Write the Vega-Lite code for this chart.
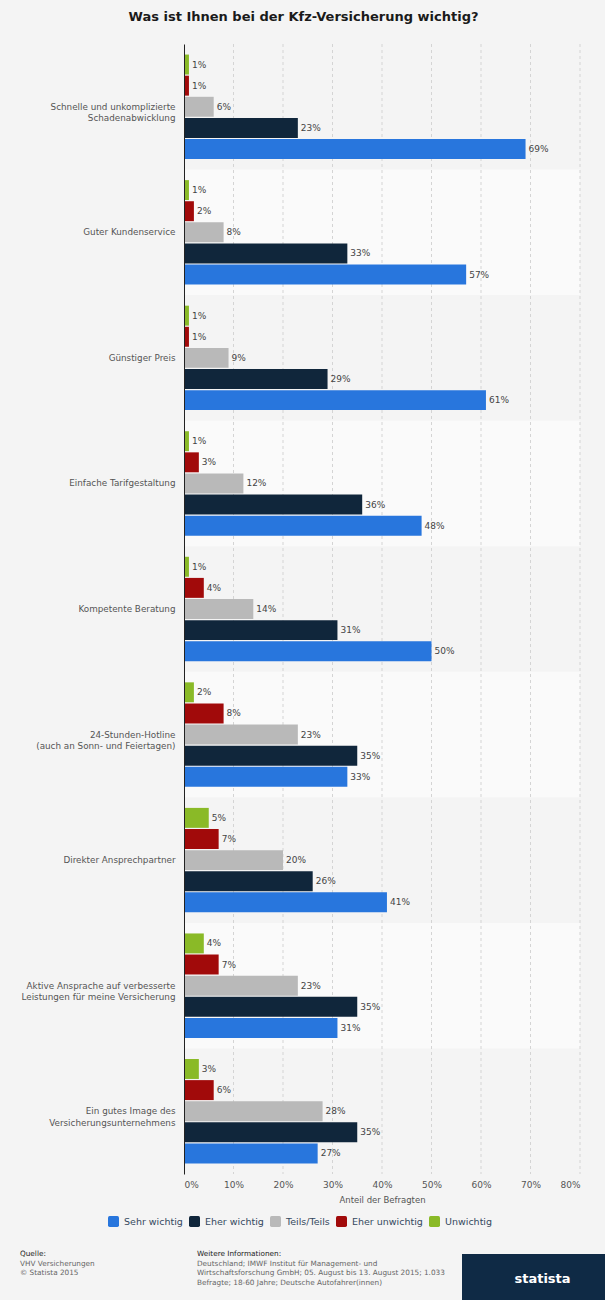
{
  "$schema": "https://vega.github.io/schema/vega-lite/v6.json",
  "background": "#f4f4f4",
  "padding": {"left": 20, "top": 10, "right": 0, "bottom": 0},
  "config": {"view": {"stroke": null}, "font": "DejaVu Sans"},
  "title": {
    "text": "Was ist Ihnen bei der Kfz-Versicherung wichtig?",
    "font": "DejaVu Sans",
    "fontSize": 13,
    "fontWeight": "bold",
    "color": "#1a1a1a",
    "anchor": "middle",
    "dx": -10,
    "offset": 20
  },
  "datasets": {
    "umfrage": [
      {"Kategorie": "Schnelle und unkomplizierte\nSchadenabwicklung", "Bewertung": "Sehr wichtig", "Anteil": 0.69},
      {"Kategorie": "Schnelle und unkomplizierte\nSchadenabwicklung", "Bewertung": "Eher wichtig", "Anteil": 0.23},
      {"Kategorie": "Schnelle und unkomplizierte\nSchadenabwicklung", "Bewertung": "Teils/Teils", "Anteil": 0.06},
      {"Kategorie": "Schnelle und unkomplizierte\nSchadenabwicklung", "Bewertung": "Eher unwichtig", "Anteil": 0.01},
      {"Kategorie": "Schnelle und unkomplizierte\nSchadenabwicklung", "Bewertung": "Unwichtig", "Anteil": 0.01},
      {"Kategorie": "Guter Kundenservice", "Bewertung": "Sehr wichtig", "Anteil": 0.57},
      {"Kategorie": "Guter Kundenservice", "Bewertung": "Eher wichtig", "Anteil": 0.33},
      {"Kategorie": "Guter Kundenservice", "Bewertung": "Teils/Teils", "Anteil": 0.08},
      {"Kategorie": "Guter Kundenservice", "Bewertung": "Eher unwichtig", "Anteil": 0.02},
      {"Kategorie": "Guter Kundenservice", "Bewertung": "Unwichtig", "Anteil": 0.01},
      {"Kategorie": "Günstiger Preis", "Bewertung": "Sehr wichtig", "Anteil": 0.61},
      {"Kategorie": "Günstiger Preis", "Bewertung": "Eher wichtig", "Anteil": 0.29},
      {"Kategorie": "Günstiger Preis", "Bewertung": "Teils/Teils", "Anteil": 0.09},
      {"Kategorie": "Günstiger Preis", "Bewertung": "Eher unwichtig", "Anteil": 0.01},
      {"Kategorie": "Günstiger Preis", "Bewertung": "Unwichtig", "Anteil": 0.01},
      {"Kategorie": "Einfache Tarifgestaltung", "Bewertung": "Sehr wichtig", "Anteil": 0.48},
      {"Kategorie": "Einfache Tarifgestaltung", "Bewertung": "Eher wichtig", "Anteil": 0.36},
      {"Kategorie": "Einfache Tarifgestaltung", "Bewertung": "Teils/Teils", "Anteil": 0.12},
      {"Kategorie": "Einfache Tarifgestaltung", "Bewertung": "Eher unwichtig", "Anteil": 0.03},
      {"Kategorie": "Einfache Tarifgestaltung", "Bewertung": "Unwichtig", "Anteil": 0.01},
      {"Kategorie": "Kompetente Beratung", "Bewertung": "Sehr wichtig", "Anteil": 0.50},
      {"Kategorie": "Kompetente Beratung", "Bewertung": "Eher wichtig", "Anteil": 0.31},
      {"Kategorie": "Kompetente Beratung", "Bewertung": "Teils/Teils", "Anteil": 0.14},
      {"Kategorie": "Kompetente Beratung", "Bewertung": "Eher unwichtig", "Anteil": 0.04},
      {"Kategorie": "Kompetente Beratung", "Bewertung": "Unwichtig", "Anteil": 0.01},
      {"Kategorie": "24-Stunden-Hotline\n(auch an Sonn- und Feiertagen)", "Bewertung": "Sehr wichtig", "Anteil": 0.33},
      {"Kategorie": "24-Stunden-Hotline\n(auch an Sonn- und Feiertagen)", "Bewertung": "Eher wichtig", "Anteil": 0.35},
      {"Kategorie": "24-Stunden-Hotline\n(auch an Sonn- und Feiertagen)", "Bewertung": "Teils/Teils", "Anteil": 0.23},
      {"Kategorie": "24-Stunden-Hotline\n(auch an Sonn- und Feiertagen)", "Bewertung": "Eher unwichtig", "Anteil": 0.08},
      {"Kategorie": "24-Stunden-Hotline\n(auch an Sonn- und Feiertagen)", "Bewertung": "Unwichtig", "Anteil": 0.02},
      {"Kategorie": "Direkter Ansprechpartner", "Bewertung": "Sehr wichtig", "Anteil": 0.41},
      {"Kategorie": "Direkter Ansprechpartner", "Bewertung": "Eher wichtig", "Anteil": 0.26},
      {"Kategorie": "Direkter Ansprechpartner", "Bewertung": "Teils/Teils", "Anteil": 0.20},
      {"Kategorie": "Direkter Ansprechpartner", "Bewertung": "Eher unwichtig", "Anteil": 0.07},
      {"Kategorie": "Direkter Ansprechpartner", "Bewertung": "Unwichtig", "Anteil": 0.05},
      {"Kategorie": "Aktive Ansprache auf verbesserte\nLeistungen für meine Versicherung", "Bewertung": "Sehr wichtig", "Anteil": 0.31},
      {"Kategorie": "Aktive Ansprache auf verbesserte\nLeistungen für meine Versicherung", "Bewertung": "Eher wichtig", "Anteil": 0.35},
      {"Kategorie": "Aktive Ansprache auf verbesserte\nLeistungen für meine Versicherung", "Bewertung": "Teils/Teils", "Anteil": 0.23},
      {"Kategorie": "Aktive Ansprache auf verbesserte\nLeistungen für meine Versicherung", "Bewertung": "Eher unwichtig", "Anteil": 0.07},
      {"Kategorie": "Aktive Ansprache auf verbesserte\nLeistungen für meine Versicherung", "Bewertung": "Unwichtig", "Anteil": 0.04},
      {"Kategorie": "Ein gutes Image des\nVersicherungsunternehmens", "Bewertung": "Sehr wichtig", "Anteil": 0.27},
      {"Kategorie": "Ein gutes Image des\nVersicherungsunternehmens", "Bewertung": "Eher wichtig", "Anteil": 0.35},
      {"Kategorie": "Ein gutes Image des\nVersicherungsunternehmens", "Bewertung": "Teils/Teils", "Anteil": 0.28},
      {"Kategorie": "Ein gutes Image des\nVersicherungsunternehmens", "Bewertung": "Eher unwichtig", "Anteil": 0.06},
      {"Kategorie": "Ein gutes Image des\nVersicherungsunternehmens", "Bewertung": "Unwichtig", "Anteil": 0.03}
    ],
    "streifen": [
      {"Kategorie": "Guter Kundenservice"},
      {"Kategorie": "Einfache Tarifgestaltung"},
      {"Kategorie": "24-Stunden-Hotline\n(auch an Sonn- und Feiertagen)"},
      {"Kategorie": "Aktive Ansprache auf verbesserte\nLeistungen für meine Versicherung"}
    ],
    "raster": [
      {"Wert": 0.1}, {"Wert": 0.2}, {"Wert": 0.3}, {"Wert": 0.4},
      {"Wert": 0.5}, {"Wert": 0.6}, {"Wert": 0.7}, {"Wert": 0.8}
    ],
    "fussnote": [
      {"Block": "Quelle", "Zeile": 0, "Text": "Quelle:"},
      {"Block": "Quelle", "Zeile": 1, "Text": "VHV Versicherungen"},
      {"Block": "Quelle", "Zeile": 2, "Text": "© Statista 2015"},
      {"Block": "Weitere", "Zeile": 0, "Text": "Weitere Informationen:"},
      {"Block": "Weitere", "Zeile": 1, "Text": "Deutschland; IMWF Institut für Management- und"},
      {"Block": "Weitere", "Zeile": 2, "Text": "Wirtschaftsforschung GmbH; 05. August bis 13. August 2015; 1.033"},
      {"Block": "Weitere", "Zeile": 3, "Text": "Befragte; 18-60 Jahre; Deutsche Autofahrer(innen)"}
    ],
    "logo": [
      {"Marke": "statista"}
    ]
  },
  "spacing": 46,
  "vconcat": [
    {
      "width": 396,
      "height": 1130,
      "layer": [
        {
          "data": {"name": "streifen"},
          "mark": {"type": "rect", "color": "#fafafa"},
          "encoding": {
            "y": {
              "field": "Kategorie", "type": "nominal",
              "scale": {
                "domain": [
                  "Schnelle und unkomplizierte\nSchadenabwicklung",
                  "Guter Kundenservice",
                  "Günstiger Preis",
                  "Einfache Tarifgestaltung",
                  "Kompetente Beratung",
                  "24-Stunden-Hotline\n(auch an Sonn- und Feiertagen)",
                  "Direkter Ansprechpartner",
                  "Aktive Ansprache auf verbesserte\nLeistungen für meine Versicherung",
                  "Ein gutes Image des\nVersicherungsunternehmens"
                ],
                "paddingInner": 0, "paddingOuter": 0
              },
              "axis": {
                "title": null,
                "labelExpr": "split(datum.label, '\\n')",
                "labelFontSize": 8.8,
                "labelColor": "#555555",
                "labelPadding": 9,
                "labelLineHeight": 11.5,
                "labelLimit": 300,
                "ticks": false,
                "domain": true,
                "domainColor": "#222222",
                "domainWidth": 1
              }
            },
            "x": {"datum": 0, "type": "quantitative", "scale": {"domain": [0, 0.8], "nice": false}},
            "x2": {"datum": 0.8}
          }
        },
        {
          "data": {"name": "raster"},
          "mark": {"type": "rule", "color": "#d4d4d4", "strokeDash": [3, 3], "strokeWidth": 1},
          "encoding": {
            "x": {"field": "Wert", "type": "quantitative", "scale": {"domain": [0, 0.8], "nice": false}}
          }
        },
        {
          "data": {"name": "umfrage"},
          "mark": {"type": "bar"},
          "encoding": {
            "y": {"field": "Kategorie", "type": "nominal"},
            "yOffset": {
              "field": "Bewertung", "type": "nominal",
              "scale": {
                "domain": ["Unwichtig", "Eher unwichtig", "Teils/Teils", "Eher wichtig", "Sehr wichtig"],
                "paddingInner": 0.055, "paddingOuter": 0.5
              }
            },
            "x": {
              "field": "Anteil", "type": "quantitative",
              "scale": {"domain": [0, 0.8], "nice": false},
              "axis": {
                "values": [0, 0.1, 0.2, 0.3, 0.4, 0.5, 0.6, 0.7, 0.8],
                "format": ".0%",
                "grid": false,
                "domain": false,
                "ticks": false,
                "labelFontSize": 9,
                "labelColor": "#555555",
                "labelPadding": 6,
                "title": "Anteil der Befragten",
                "titleFontSize": 8.5,
                "titleFontWeight": "normal",
                "titleColor": "#555555",
                "titlePadding": 6
              }
            },
            "color": {
              "field": "Bewertung", "type": "nominal",
              "scale": {
                "domain": ["Sehr wichtig", "Eher wichtig", "Teils/Teils", "Eher unwichtig", "Unwichtig"],
                "range": ["#2876dd", "#10263b", "#b9b9b9", "#a10a0a", "#8aba27"]
              },
              "legend": {
                "orient": "none",
                "legendX": -76,
                "legendY": 1172,
                "direction": "horizontal",
                "title": null,
                "symbolType": "M -0.7 -1 L 0.7 -1 Q 1 -1 1 -0.7 L 1 0.7 Q 1 1 0.7 1 L -0.7 1 Q -1 1 -1 0.7 L -1 -0.7 Q -1 -1 -0.7 -1 Z",
                "symbolSize": 121,
                "symbolStrokeWidth": 0,
                "labelFontSize": 9.5,
                "labelColor": "#34495e",
                "labelOffset": 5,
                "columnPadding": 6
              }
            }
          }
        },
        {
          "data": {"name": "umfrage"},
          "mark": {"type": "text", "align": "left", "baseline": "middle", "dx": 3, "fontSize": 9, "color": "#444444"},
          "encoding": {
            "y": {"field": "Kategorie", "type": "nominal"},
            "yOffset": {"field": "Bewertung", "type": "nominal"},
            "x": {"field": "Anteil", "type": "quantitative"},
            "text": {"field": "Anteil", "type": "quantitative", "format": ".0%"}
          }
        }
      ]
    },
    {
      "spacing": 17,
      "hconcat": [
        {
          "width": {"step": 177},
          "height": {"step": 9.7},
          "data": {"name": "fussnote"},
          "mark": {"type": "text", "align": "left", "baseline": "middle", "fontSize": 7.3, "dx": -164},
          "encoding": {
            "x": {"field": "Block", "type": "nominal", "sort": ["Quelle", "Weitere"], "scale": {"type": "point", "padding": 0}, "axis": null},
            "y": {"field": "Zeile", "type": "ordinal", "scale": {"type": "point", "padding": 0}, "axis": null},
            "text": {"field": "Text"},
            "color": {"condition": {"test": "datum.Zeile == 0", "value": "#222222"}, "value": "#666666"}
          }
        },
        {
          "width": 145,
          "height": 47,
          "view": {"fill": "#0f2a45", "stroke": null},
          "data": {"name": "logo"},
          "mark": {"type": "text", "font": "DejaVu Sans", "fontSize": 13, "fontWeight": "bold", "color": "#ffffff", "dx": 8, "dy": 1},
          "encoding": {
            "text": {"field": "Marke"}
          }
        }
      ]
    }
  ]
}
